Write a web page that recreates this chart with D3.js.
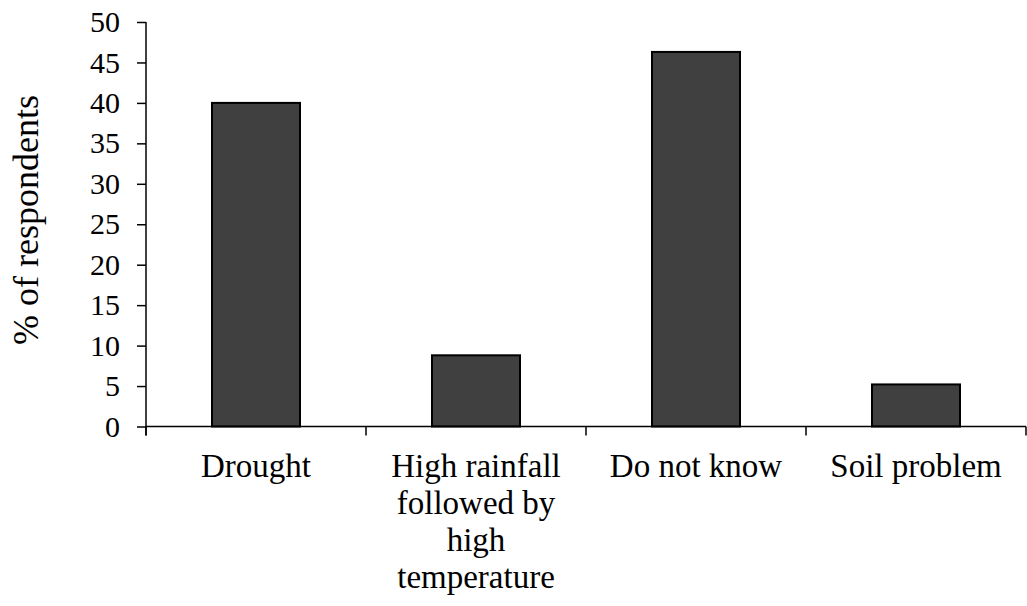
<!DOCTYPE html>
<html><head><meta charset="utf-8">
<script src="https://cdn.jsdelivr.net/npm/d3@7"></script>
<style>body{margin:0;background:#fff}svg{display:block}svg text{font-family:"Liberation Serif","Times New Roman",serif !important;fill:#000}</style>
</head><body><svg id="c" width="1027" height="606"></svg>
<script>
const categories = [["Drought"], ["High rainfall", "followed by", "high", "temperature"], ["Do not know"], ["Soil problem"]];
const values = [40.0, 8.8, 46.3, 5.2];
const yTicks = [0, 5, 10, 15, 20, 25, 30, 35, 40, 45, 50];
const yTitle = "% of respondents";

(function () {
const FONT = '"Liberation Serif", "Times New Roman", serif';
const svg = d3.select("#c");
const pL = 146, pR = 1026, pT = 22, pB = 426.5;
const x = d3.scaleBand().domain(d3.range(categories.length)).range([pL, pR]).paddingInner(0).paddingOuter(0);
const y = d3.scaleLinear().domain([0, 50]).range([pB, pT]);
const barW = x.bandwidth() * 0.4;

svg.selectAll("rect.bar").data(values).join("rect")
  .attr("x", (d, i) => x(i) + (x.bandwidth() - barW) / 2)
  .attr("y", d => y(d))
  .attr("width", barW)
  .attr("height", d => y(0) - y(d))
  .attr("fill", "#404040").attr("stroke", "#000").attr("stroke-width", 2);

const yAxis = svg.append("g").attr("transform", `translate(${pL},0)`)
  .call(d3.axisLeft(y).tickValues(yTicks).tickSize(9).tickPadding(17).tickFormat(d3.format("d")));
yAxis.attr("font-family", FONT);
yAxis.select(".domain").remove();
yAxis.selectAll("line").attr("stroke", "#000").attr("stroke-width", 1.5);
yAxis.selectAll("text").style("font-size", "30px").style("font-family", FONT);
svg.append("line").attr("x1", pL).attr("x2", pL).attr("y1", pT).attr("y2", pB + 9).attr("stroke", "#000").attr("stroke-width", 1.5);

svg.append("line").attr("x1", pL).attr("x2", pR).attr("y1", pB).attr("y2", pB).attr("stroke", "#000").attr("stroke-width", 1.5);
const bounds = d3.range(categories.length + 1).map(i => i < categories.length ? x(i) : pR);
svg.selectAll("line.xt").data(bounds).join("line")
  .attr("x1", d => d).attr("x2", d => d).attr("y1", pB).attr("y2", pB + 9)
  .attr("stroke", "#000").attr("stroke-width", 1.5);

const lab = svg.selectAll("text.cat").data(categories).join("text")
  .attr("text-anchor", "middle").style("font-size", "33px").style("font-family", FONT)
  .attr("transform", (d, i) => `translate(${x(i) + x.bandwidth() / 2},477)`);
lab.selectAll("tspan").data(d => d).join("tspan")
  .attr("x", 0).attr("y", (d, i) => i * 37).text(d => d);

svg.append("text").attr("text-anchor", "middle").style("font-size", "36px").style("font-family", FONT)
  .attr("transform", "translate(38,220) rotate(-90)").text(yTitle);
})();
</script></body></html>
